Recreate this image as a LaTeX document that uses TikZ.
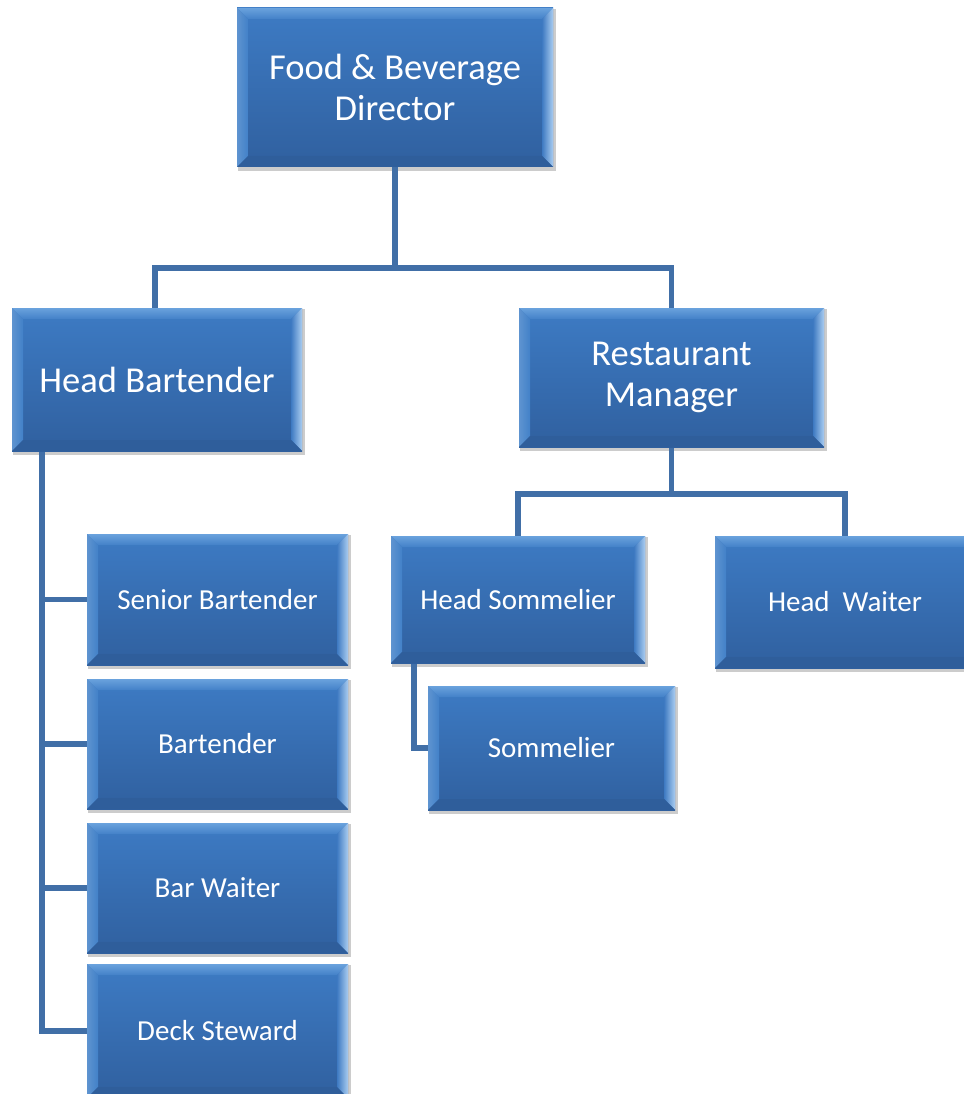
\documentclass[tikz,border=0pt]{standalone}
\usepackage{fontspec}
\setmainfont{Carlito}
\usetikzlibrary{backgrounds}
\definecolor{conncol}{HTML}{416FA7}
\definecolor{boxtop}{HTML}{3D7BC4}
\definecolor{boxbot}{HTML}{30609F}
\definecolor{bevtopA}{HTML}{6AA2DD}
\definecolor{bevtopB}{HTML}{4381C8}
\definecolor{bevleft}{HTML}{4281C8}
\definecolor{bevrightA}{HTML}{A9CCF0}
\definecolor{bevrightB}{HTML}{3E7AC2}
\definecolor{bevbot}{HTML}{2F5E9B}
\tikzset{
  x=1pt,y=1pt,
  conn/.style={draw=conncol,line width=5.5pt,line join=miter,line cap=rect},
  bevelbox/.style={rectangle,inner sep=0pt,outer sep=0pt,text=white,align=center,
    top color=boxtop,bottom color=boxbot,
    path picture={
      \def\bv{11pt}
      \coordinate (nw) at (path picture bounding box.north west);
      \coordinate (ne) at (path picture bounding box.north east);
      \coordinate (sw) at (path picture bounding box.south west);
      \coordinate (se) at (path picture bounding box.south east);
      \shade[top color=bevtopA,bottom color=bevtopB] (nw) -- (ne) -- ([xshift=-\bv,yshift=-\bv]ne) -- ([xshift=\bv,yshift=-\bv]nw) -- cycle;
      \shade[left color=bevleft!85!white,right color=bevleft] (nw) -- ([xshift=\bv,yshift=-\bv]nw) -- ([xshift=\bv,yshift=\bv]sw) -- (sw) -- cycle;
      \shade[left color=bevrightB,right color=bevrightA] (ne) -- (se) -- ([xshift=-\bv,yshift=\bv]se) -- ([xshift=-\bv,yshift=-\bv]ne) -- cycle;
      \fill[bevbot] (sw) -- ([xshift=\bv,yshift=\bv]sw) -- ([xshift=-\bv,yshift=\bv]se) -- (se) -- cycle;
    }},
  bigtext/.style={font=\fontsize{36.5}{41}\selectfont},
  smalltext/.style={font=\fontsize{29}{34}\selectfont},
  shadowbox/.style={fill=black!20}
}
\begin{document}
\begin{tikzpicture}
\useasboundingbox (0,0) rectangle (963,-1094);
% boxes
\node[bevelbox,bigtext,minimum width=316,minimum height=159] (dir) at (395,-87.5) {Food \& Beverage\\Director};
\node[bevelbox,bigtext,minimum width=290,minimum height=143] (hb) at (157,-379.5) {Head Bartender};
\node[bevelbox,bigtext,minimum width=305,minimum height=139] (rm) at (671.5,-377.5) {Restaurant\\Manager};
\node[bevelbox,smalltext,minimum width=261,minimum height=131] (sb) at (217.5,-599.5) {Senior Bartender};
\node[bevelbox,smalltext,minimum width=261,minimum height=130] (bt) at (217.5,-744) {Bartender};
\node[bevelbox,smalltext,minimum width=261,minimum height=130] (bw) at (217.5,-888) {Bar Waiter};
\node[bevelbox,smalltext,minimum width=261,minimum height=134] (ds) at (217.5,-1031) {Deck Steward};
\node[bevelbox,smalltext,minimum width=254,minimum height=127] (hs) at (518,-599.5) {Head Sommelier};
\node[bevelbox,smalltext,minimum width=260,minimum height=132] (hw) at (845,-602) {Head~ Waiter};
\node[bevelbox,smalltext,minimum width=247,minimum height=124] (som) at (551.5,-748) {Sommelier};
% shadows and connectors
\begin{scope}[on background layer]
\foreach \n in {dir,hb,rm,sb,bt,bw,ds,hs,hw,som}{
  \fill[shadowbox] ([xshift=1pt,yshift=-4pt]\n.south west) rectangle ([xshift=3pt,yshift=-1pt]\n.north east);
}
\coordinate (trunk) at ([yshift=-101]dir.south);
\draw[conn] (dir.south) -- (trunk) -| ([xshift=-2]hb.north);
\draw[conn] (trunk) -| (rm.north);
\draw[conn] ([xshift=30]hb.south west) |- (sb.west);
\draw[conn] ([xshift=30]hb.south west) |- (bt.west);
\draw[conn] ([xshift=30]hb.south west) |- (bw.west);
\draw[conn] ([xshift=30]hb.south west) |- (ds.west);
\coordinate (rmjoin) at ([yshift=-47]rm.south);
\draw[conn] (rm.south) -- (rmjoin) -| (hs.north);
\draw[conn] (rmjoin) -| (hw.north);
\draw[conn] ([xshift=23]hs.south west) |- (som.west);
\end{scope}
\end{tikzpicture}
\end{document}
